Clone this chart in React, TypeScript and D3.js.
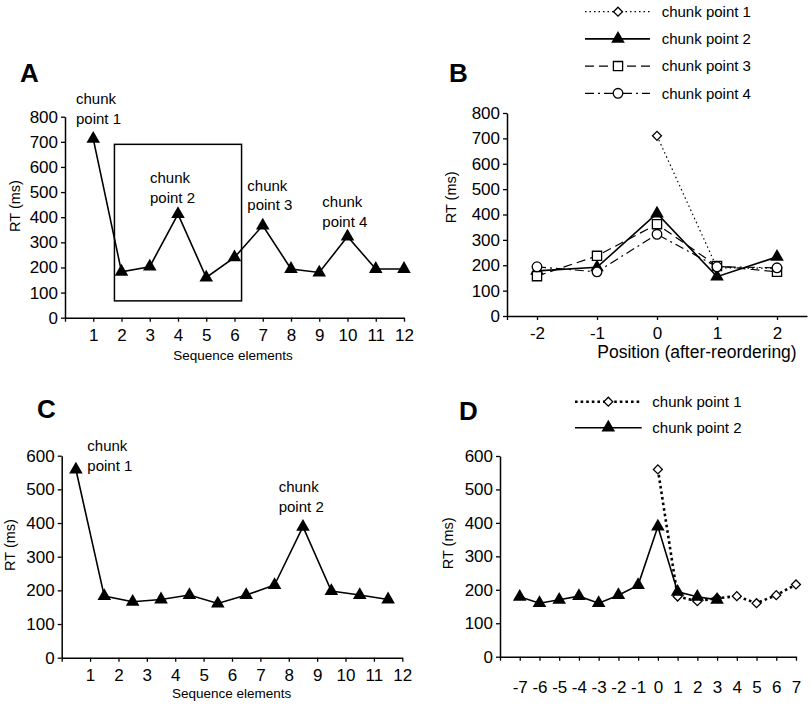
import React, { useEffect, useRef } from 'react';
import * as d3 from 'd3';

const FONT = '"Liberation Sans", Arial, Helvetica, sans-serif';

// Panel A: RT per sequence element
const elementsA = [1, 2, 3, 4, 5, 6, 7, 8, 9, 10, 11, 12];
const rtA = [712, 183, 203, 412, 160, 240, 367, 194, 180, 323, 194, 194];

// Panel B: RT around each chunk point (after reordering)
const positionsB = [-2, -1, 0, 1, 2];
const rtB1 = [null, null, 710, 190, 188];
const rtB2 = [178, 192, 404, 155, 233];
const rtB3 = [157, 237, 362, 197, 174];
const rtB4 = [194, 174, 322, 194, 190];
const legendB = ['chunk point 1', 'chunk point 2', 'chunk point 3', 'chunk point 4'];

// Panel C
const elementsC = [1, 2, 3, 4, 5, 6, 7, 8, 9, 10, 11, 12];
const rtC = [559, 183, 166, 173, 186, 161, 186, 216, 389, 198, 186, 173];

// Panel D
const positionsD = [-7, -6, -5, -4, -3, -2, -1, 0, 1, 2, 3, 4, 5, 6, 7];
const rtD1 = [null, null, null, null, null, null, null, 560, 180, 166, 175, 181, 160, 184, 216];
const rtD2 = [179, 160, 170, 181, 160, 184, 214, 389, 194, 179, 170, null, null, null, null];
const legendD = ['chunk point 1', 'chunk point 2'];

const yTicks800 = [0, 100, 200, 300, 400, 500, 600, 700, 800];
const yTicks600 = [0, 100, 200, 300, 400, 500, 600];

type Sel = d3.Selection<SVGGElement, unknown, null, undefined>;

const styles: Record<string, { dash: string; width: number; marker: string }> = {
  s1: { dash: '1.5,3', width: 1.2, marker: 'diamond' },
  s1bold: { dash: '2.6,3', width: 2.6, marker: 'diamond' },
  s2: { dash: '', width: 1.6, marker: 'triangle' },
  s3: { dash: '9,5', width: 1.2, marker: 'square' },
  s4: { dash: '9,4,2,4', width: 1.2, marker: 'circle' },
};

function marker(g: Sel, type: string, x: number, y: number) {
  if (type === 'triangle') {
    g.append('path').attr('d', d3.symbol(d3.symbolTriangle, 80)())
      .attr('transform', `translate(${x},${y})`).attr('fill', '#000');
  } else if (type === 'diamond') {
    g.append('path').attr('d', d3.symbol(d3.symbolSquare, 40)())
      .attr('transform', `translate(${x},${y}) rotate(45)`)
      .attr('fill', '#fff').attr('stroke', '#000').attr('stroke-width', 1.3);
  } else if (type === 'square') {
    g.append('path').attr('d', d3.symbol(d3.symbolSquare, 85)())
      .attr('transform', `translate(${x},${y})`)
      .attr('fill', '#fff').attr('stroke', '#000').attr('stroke-width', 1.3);
  } else {
    g.append('circle').attr('cx', x).attr('cy', y).attr('r', 4.8)
      .attr('fill', '#fff').attr('stroke', '#000').attr('stroke-width', 1.3);
  }
}

function series(g: Sel, xs: number[], vals: (number | null)[], x: any, y: any, style: string) {
  const st = styles[style];
  const pts = xs.map((p, i) => ({ p, v: vals[i] })).filter(d => d.v != null) as { p: number; v: number }[];
  const line = d3.line<{ p: number; v: number }>().x(d => x(d.p)).y(d => y(d.v));
  g.append('path').attr('d', line(pts)).attr('fill', 'none').attr('stroke', '#000')
    .attr('stroke-width', st.width).attr('stroke-dasharray', st.dash || null);
  pts.forEach(d => marker(g, st.marker, x(d.p), y(d.v)));
}

// first x tick sits on the y axis and has no label
function axes(g: Sel, x: any, y: any, xTicks: number[], yTicks: number[], xPad: number) {
  const fmt = (d: any, i: number) => (i === 0 ? '' : String(d));
  const xa = g.append('g').attr('transform', `translate(0,${y.range()[0]})`)
    .call(d3.axisBottom(x).tickValues(xTicks).tickSize(4).tickSizeOuter(0).tickPadding(xPad).tickFormat(fmt));
  const ya = g.append('g').attr('transform', `translate(${x.range()[0]},0)`)
    .call(d3.axisLeft(y).tickValues(yTicks).tickSize(4).tickSizeOuter(0).tickPadding(3));
  [xa, ya].forEach(a => {
    a.select('.domain').attr('stroke-width', 1.5).attr('stroke', '#000');
    a.selectAll('line').attr('stroke-width', 1.3).attr('stroke', '#000');
    a.selectAll('text').attr('font-size', 17).attr('font-family', FONT).attr('fill', '#000');
  });
}

function label(g: Sel, x: number, y: number, t: string, size: number, opts: any = {}) {
  const tx = g.append('text').attr('x', x).attr('y', y).attr('font-size', size)
    .attr('font-family', FONT).attr('fill', '#000').text(t);
  if (opts.anchor) tx.attr('text-anchor', opts.anchor);
  if (opts.bold) tx.attr('font-weight', 'bold');
  if (opts.rotate) tx.attr('transform', `rotate(-90,${x},${y})`).attr('dy', '0.35em');
  return tx;
}

function chunkLabel(g: Sel, x: number, y: number, n: number) {
  label(g, x, y, 'chunk', 15);
  label(g, x, y + 19.5, `point ${n}`, 15);
}

export default function App() {
  const svgRef = useRef<SVGSVGElement>(null);

  useEffect(() => {
    const svg = d3.select(svgRef.current);
    svg.selectAll('*').remove();
    const root = svg.append('g') as Sel;

    // ---------- A ----------
    const xA = d3.scaleLinear().domain([0, 12]).range([65, 404]);
    const yA = d3.scaleLinear().domain([0, 800]).range([317.7, 116.7]);
    const gA = root.append('g') as Sel;
    axes(gA, xA, yA, [0, ...elementsA], yTicks800, 7);
    gA.append('rect')
      .attr('x', xA(1.75)).attr('y', yA(690))
      .attr('width', xA(6.25) - xA(1.75)).attr('height', yA(67) - yA(690))
      .attr('fill', 'none').attr('stroke', '#000').attr('stroke-width', 1.5);
    series(gA, elementsA, rtA, xA, yA, 's2');
    label(gA, 20, 81.5, 'A', 26, { bold: true });
    label(gA, 15, 206, 'RT (ms)', 14.5, { anchor: 'middle', rotate: true });
    label(gA, 233, 360, 'Sequence elements', 13.5, { anchor: 'middle' });
    chunkLabel(gA, 76, 104.3, 1);
    chunkLabel(gA, 150, 183.3, 2);
    chunkLabel(gA, 247.3, 190.7, 3);
    chunkLabel(gA, 322.3, 207.3, 4);

    // ---------- B ----------
    const xB = d3.scaleLinear().domain([-2.5, 2.5]).range([507, 807]);
    const yB = d3.scaleLinear().domain([0, 800]).range([316, 113]);
    const gB = root.append('g') as Sel;
    axes(gB, xB, yB, [-2.5, ...positionsB], yTicks800, 7);
    series(gB, positionsB, rtB1, xB, yB, 's1');
    series(gB, positionsB, rtB2, xB, yB, 's2');
    series(gB, positionsB, rtB3, xB, yB, 's3');
    series(gB, positionsB, rtB4, xB, yB, 's4');
    label(gB, 449, 81.7, 'B', 26, { bold: true });
    label(gB, 450.7, 197.3, 'RT (ms)', 14.5, { anchor: 'middle', rotate: true });
    label(gB, 697, 358, 'Position (after-reordering)', 17.5, { anchor: 'middle' });
    const legStylesB = ['s1', 's2', 's3', 's4'];
    legendB.forEach((t, i) => {
      const ly = 11.7 + i * 27.2;
      const st = styles[legStylesB[i]];
      gB.append('line').attr('x1', 585).attr('x2', 650).attr('y1', ly).attr('y2', ly)
        .attr('stroke', '#000').attr('stroke-width', st.width).attr('stroke-dasharray', st.dash || null);
      marker(gB, st.marker, 618, ly);
      label(gB, 661.7, ly + 5.3, t, 15);
    });

    // ---------- C ----------
    const xC = d3.scaleLinear().domain([0, 12]).range([61.7, 402.3]);
    const yC = d3.scaleLinear().domain([0, 600]).range([657.7, 455.7]);
    const gC = root.append('g') as Sel;
    axes(gC, xC, yC, [0, ...elementsC], yTicks600, 7);
    series(gC, elementsC.map(d => d - 0.5), rtC, xC, yC, 's2');
    label(gC, 37, 417.5, 'C', 26, { bold: true });
    label(gC, 10, 545, 'RT (ms)', 14.5, { anchor: 'middle', rotate: true });
    label(gC, 231.7, 698, 'Sequence elements', 13.5, { anchor: 'middle' });
    chunkLabel(gC, 87.3, 451, 1);
    chunkLabel(gC, 278.7, 492.3, 2);

    // ---------- D ----------
    const xD = d3.scaleLinear().domain([-8, 7]).range([500, 796]);
    const yD = d3.scaleLinear().domain([0, 600]).range([656.7, 456]);
    const gD = root.append('g') as Sel;
    axes(gD, xD, yD, [-8, ...positionsD], yTicks600, 20);
    series(gD, positionsD, rtD1, xD, yD, 's1bold');
    series(gD, positionsD, rtD2, xD, yD, 's2');
    label(gD, 459, 420, 'D', 26, { bold: true });
    label(gD, 448.3, 543.3, 'RT (ms)', 14.5, { anchor: 'middle', rotate: true });
    const legStylesD = ['s1bold', 's2'];
    legendD.forEach((t, i) => {
      const ly = 401.7 + i * 26;
      const st = styles[legStylesD[i]];
      gD.append('line').attr('x1', 575).attr('x2', 641.7).attr('y1', ly).attr('y2', ly)
        .attr('stroke', '#000').attr('stroke-width', st.width).attr('stroke-dasharray', st.dash || null);
      marker(gD, st.marker, 608.3, ly);
      label(gD, 652.3, ly + 5.3, t, 15);
    });
  }, []);

  return (
    <div style={{ position: 'absolute', left: 0, top: 0 }}>
      <svg ref={svgRef} width={812} height={706} style={{ display: 'block', background: '#fff' }} />
    </div>
  );
}
